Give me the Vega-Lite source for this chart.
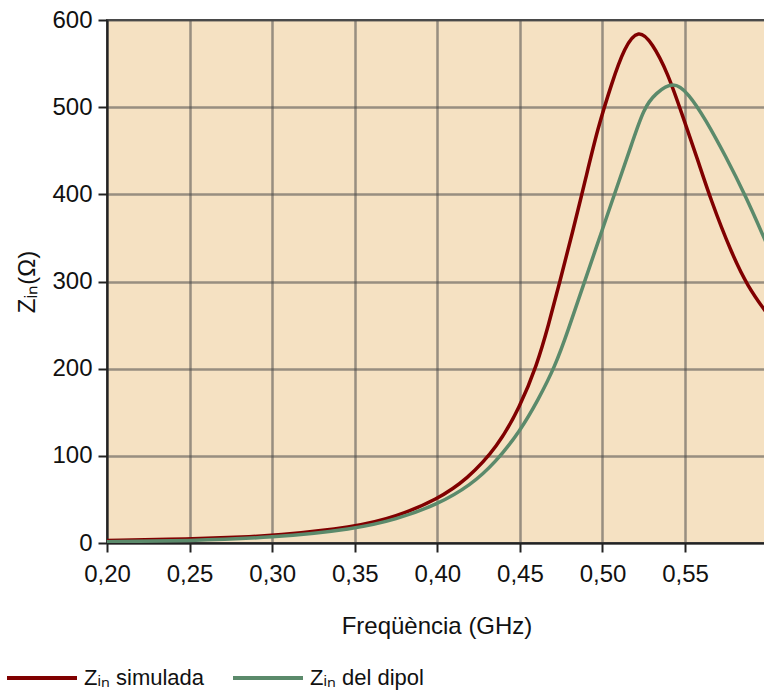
{
  "$schema": "https://vega.github.io/schema/vega-lite/v6.json",
  "autosize": "none",
  "padding": {"left": 107, "top": 20, "right": 0, "bottom": 148},
  "width": 659,
  "height": 523,
  "background": "white",
  "config": {
    "font": "Liberation Sans",
    "view": {"fill": "#F5E1C2", "stroke": "#4a4a4a", "strokeWidth": 2}
  },
  "data": {
    "values": [
      {"f": 0.20, "z": 3, "s": "Zᵢₙ simulada"},
      {"f": 0.25, "z": 4.5, "s": "Zᵢₙ simulada"},
      {"f": 0.285, "z": 7, "s": "Zᵢₙ simulada"},
      {"f": 0.30, "z": 8.5, "s": "Zᵢₙ simulada"},
      {"f": 0.35, "z": 18, "s": "Zᵢₙ simulada"},
      {"f": 0.375, "z": 30, "s": "Zᵢₙ simulada"},
      {"f": 0.40, "z": 50, "s": "Zᵢₙ simulada"},
      {"f": 0.418, "z": 73, "s": "Zᵢₙ simulada"},
      {"f": 0.4364, "z": 110, "s": "Zᵢₙ simulada"},
      {"f": 0.45, "z": 156, "s": "Zᵢₙ simulada"},
      {"f": 0.4603, "z": 204, "s": "Zᵢₙ simulada"},
      {"f": 0.4672, "z": 249, "s": "Zᵢₙ simulada"},
      {"f": 0.4742, "z": 300, "s": "Zᵢₙ simulada"},
      {"f": 0.4818, "z": 356, "s": "Zᵢₙ simulada"},
      {"f": 0.4897, "z": 417, "s": "Zᵢₙ simulada"},
      {"f": 0.497, "z": 475, "s": "Zᵢₙ simulada"},
      {"f": 0.5055, "z": 527, "s": "Zᵢₙ simulada"},
      {"f": 0.5133, "z": 569, "s": "Zᵢₙ simulada"},
      {"f": 0.5218, "z": 590, "s": "Zᵢₙ simulada"},
      {"f": 0.530, "z": 574, "s": "Zᵢₙ simulada"},
      {"f": 0.5394, "z": 540, "s": "Zᵢₙ simulada"},
      {"f": 0.5485, "z": 490, "s": "Zᵢₙ simulada"},
      {"f": 0.5576, "z": 440, "s": "Zᵢₙ simulada"},
      {"f": 0.5655, "z": 394, "s": "Zᵢₙ simulada"},
      {"f": 0.578, "z": 333, "s": "Zᵢₙ simulada"},
      {"f": 0.588, "z": 294, "s": "Zᵢₙ simulada"},
      {"f": 0.599, "z": 265, "s": "Zᵢₙ simulada"},
      {"f": 0.20, "z": 1.5, "s": "Zᵢₙ del dipol"},
      {"f": 0.25, "z": 2.5, "s": "Zᵢₙ del dipol"},
      {"f": 0.30, "z": 6, "s": "Zᵢₙ del dipol"},
      {"f": 0.35, "z": 16, "s": "Zᵢₙ del dipol"},
      {"f": 0.375, "z": 27, "s": "Zᵢₙ del dipol"},
      {"f": 0.40, "z": 44, "s": "Zᵢₙ del dipol"},
      {"f": 0.42, "z": 66, "s": "Zᵢₙ del dipol"},
      {"f": 0.435, "z": 92, "s": "Zᵢₙ del dipol"},
      {"f": 0.45, "z": 128, "s": "Zᵢₙ del dipol"},
      {"f": 0.461, "z": 164, "s": "Zᵢₙ del dipol"},
      {"f": 0.4714, "z": 203, "s": "Zᵢₙ del dipol"},
      {"f": 0.479, "z": 243, "s": "Zᵢₙ del dipol"},
      {"f": 0.489, "z": 299, "s": "Zᵢₙ del dipol"},
      {"f": 0.50, "z": 360, "s": "Zᵢₙ del dipol"},
      {"f": 0.5103, "z": 417, "s": "Zᵢₙ del dipol"},
      {"f": 0.5176, "z": 457, "s": "Zᵢₙ del dipol"},
      {"f": 0.525, "z": 499, "s": "Zᵢₙ del dipol"},
      {"f": 0.5321, "z": 516, "s": "Zᵢₙ del dipol"},
      {"f": 0.543, "z": 530, "s": "Zᵢₙ del dipol"},
      {"f": 0.552, "z": 516, "s": "Zᵢₙ del dipol"},
      {"f": 0.5624, "z": 486, "s": "Zᵢₙ del dipol"},
      {"f": 0.5745, "z": 444, "s": "Zᵢₙ del dipol"},
      {"f": 0.5867, "z": 398, "s": "Zᵢₙ del dipol"},
      {"f": 0.599, "z": 345, "s": "Zᵢₙ del dipol"}
    ]
  },
  "mark": {"type": "line", "strokeWidth": 3.5, "interpolate": "basis", "clip": true},
  "encoding": {
    "x": {
      "field": "f", "type": "quantitative",
      "scale": {"domain": [0.2, 0.599], "nice": false, "zero": false},
      "axis": {
        "values": [0.2, 0.25, 0.3, 0.35, 0.4, 0.45, 0.5, 0.55],
        "labelExpr": "replace(format(datum.value, '.2f'), '.', ',')",
        "labelFlush": false,
        "title": "Freqüència (GHz)",
        "titleFontSize": 24, "titleFontWeight": "normal", "titleColor": "#111", "titlePadding": 28,
        "labelFontSize": 24, "labelColor": "#111", "labelPadding": 10,
        "tickSize": 9, "tickColor": "#222", "tickWidth": 2,
        "domainColor": "#222", "domainWidth": 2,
        "gridColor": "#4a4a4a", "gridOpacity": 0.55, "gridWidth": 2.5
      }
    },
    "y": {
      "field": "z", "type": "quantitative",
      "scale": {"domain": [0, 600], "nice": false},
      "axis": {
        "values": [0, 100, 200, 300, 400, 500, 600],
        "title": "Zᵢₙ(Ω)",
        "titleFontSize": 24, "titleFontWeight": "normal", "titleColor": "#111", "titlePadding": 12,
        "labelFontSize": 24, "labelColor": "#111", "labelPadding": 6,
        "tickSize": 9, "tickColor": "#222", "tickWidth": 2,
        "domainColor": "#222", "domainWidth": 2,
        "gridColor": "#4a4a4a", "gridOpacity": 0.55, "gridWidth": 2.5
      }
    },
    "color": {
      "field": "s", "type": "nominal", "sort": ["Zᵢₙ simulada", "Zᵢₙ del dipol"],
      "scale": {"domain": ["Zᵢₙ simulada", "Zᵢₙ del dipol"], "range": ["#800000", "#5B8A6B"]},
      "legend": {
        "title": null, "orient": "none", "direction": "horizontal",
        "legendX": -102, "legendY": 621,
        "symbolType": "stroke", "symbolSize": 4900, "symbolStrokeWidth": 4,
        "labelFontSize": 22, "labelColor": "#111", "labelOffset": 5,
        "columnPadding": 20, "labelLimit": 300
      }
    }
  }
}
